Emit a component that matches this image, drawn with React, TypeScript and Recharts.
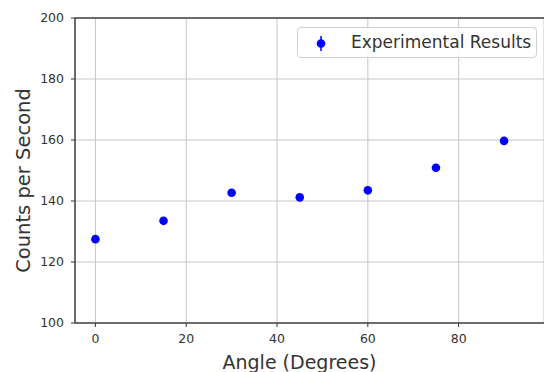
import {
  CartesianGrid,
  Label,
  Legend,
  ReferenceLine,
  Scatter,
  ScatterChart,
  XAxis,
  YAxis,
} from 'recharts'

const angles = [0, 15, 30, 45, 60, 75, 90]
const counts = [127.5, 133.5, 142.7, 141.2, 143.5, 150.9, 159.7]
const xTicks = [0, 20, 40, 60, 80]
const yTicks = [100, 120, 140, 160, 180, 200]
const seriesName = 'Experimental Results'

const font = '"DejaVu Sans", sans-serif'
const ink = '#333'

const Dot = (props: any) => <circle cx={props.cx} cy={props.cy} r={4.3} fill="#0000ff" />

const LegendBox = () => (
  <div
    style={{
      position: 'absolute',
      left: 297,
      top: 27,
      width: 240,
      height: 31,
      border: '1px solid #d0d0d0',
      borderRadius: 4,
      background: 'rgba(255,255,255,0.85)',
      boxSizing: 'border-box',
      fontFamily: font,
      fontSize: 17,
      color: ink,
    }}
  >
    <svg width={30} height={30} style={{ position: 'absolute', left: 8, top: 0 }}>
      <line x1={15} x2={15} y1={8} y2={23} stroke="#0000ff" strokeWidth={1.5} />
      <circle cx={15} cy={15.5} r={4.3} fill="#0000ff" />
    </svg>
    <span style={{ position: 'absolute', left: 53, top: 4, whiteSpace: 'nowrap' }}>{seriesName}</span>
  </div>
)

export default function App() {
  const data = angles.map((angle, i) => ({ angle, counts: counts[i] }))
  return (
    <div style={{ position: 'fixed', left: 0, top: 0, width: 544, height: 372, background: '#fff' }}>
      <ScatterChart width={544} height={372} margin={{ top: 18, right: 0, bottom: 0, left: 0 }}>
        <CartesianGrid stroke="#c6c6c6" strokeWidth={1} />
        <XAxis
          type="number"
          dataKey="angle"
          domain={[-4.5, 98.8]}
          ticks={xTicks}
          allowDataOverflow
          height={49}
          tickSize={4}
          tickMargin={7}
          tick={{ fill: ink, fontSize: 12.5, fontFamily: font }}
          tickLine={{ stroke: ink }}
          axisLine={{ stroke: '#444', strokeWidth: 1.5 }}
        >
          <Label
            value="Angle (Degrees)"
            position="insideBottom"
            offset={3}
            dx={-10}
            style={{ fill: ink, fontSize: 19, fontFamily: font }}
          />
        </XAxis>
        <YAxis
          type="number"
          dataKey="counts"
          domain={[100, 200]}
          ticks={yTicks}
          allowDataOverflow
          width={75}
          tickSize={4}
          tickMargin={7}
          tick={{ fill: ink, fontSize: 12.5, fontFamily: font }}
          tickLine={{ stroke: ink }}
          axisLine={{ stroke: '#444', strokeWidth: 1.5 }}
        >
          <Label
            value="Counts per Second"
            angle={-90}
            position="insideLeft"
            offset={23}
            dy={10}
            style={{ fill: ink, fontSize: 19.5, fontFamily: font, textAnchor: 'middle' }}
          />
        </YAxis>
        <ReferenceLine y={200} stroke="#444" strokeWidth={1.5} />
        <Legend content={() => <LegendBox />} wrapperStyle={{ position: 'absolute', left: 0, top: 0, width: 0, height: 0 }} />
        <Scatter name={seriesName} data={data} shape={Dot} isAnimationActive={false} />
      </ScatterChart>
    </div>
  )
}
